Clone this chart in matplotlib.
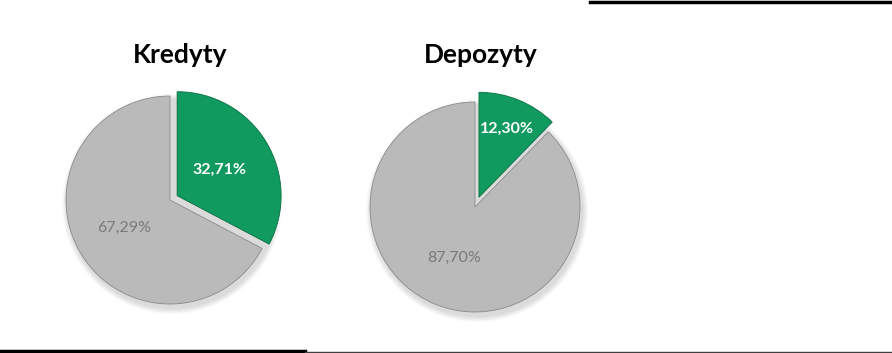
import numpy as np
import matplotlib.pyplot as plt
from matplotlib.patches import Circle

# data
titles = ["Kredyty", "Depozyty"]
shares = [[32.71, 67.29], [12.30, 87.70]]
labels = [["32,71%", "67,29%"], ["12,30%", "87,70%"]]

green = "#109a5f"
grey = "#bababa"

W, H = 892, 353
fig = plt.figure(figsize=(W / 100, H / 100), dpi=100)
plt.rcParams["font.family"] = ["Lato", "DejaVu Sans"]

# pie centres / radius in pixels (x from left, y from top)
centres = [(170, 200), (475, 207)]
radius = [104, 105]
explode_list = [[0.08, 0], [0.10, 0]]
pct_dist = [[0.48, 0.52], [0.70, 0.52]]
title_x = [180, 481]
half = 140

for i, name in enumerate(titles):
    cx, cy = centres[i]
    ax = fig.add_axes([(cx - half) / W, (H - cy - half) / H, 2 * half / W, 2 * half / H])

    # soft shadow
    for k in range(6):
        ax.add_patch(Circle((2, -4), radius[i] + 6 - k, color="black", alpha=0.025, lw=0, zorder=0))

    wedges, _ = ax.pie(shares[i], radius=radius[i], startangle=90, counterclock=False,
                       colors=[green, grey], explode=[e * radius[i] for e in explode_list[i]],
                       wedgeprops=dict(edgecolor="#8a8a8a", linewidth=0.6))
    wedges[0].set_edgecolor("#0b6e42")
    ax.set_xlim(-half, half)
    ax.set_ylim(-half, half)
    ax.set_aspect("equal")
    ax.axis("off")

    # labels at wedge middles
    for j, w in enumerate(wedges):
        ang = np.deg2rad((w.theta1 + w.theta2) / 2)
        ox, oy = w.center
        r = pct_dist[i][j] * radius[i]
        if j == 0:
            ax.text(ox + r * np.cos(ang), oy + r * np.sin(ang), labels[i][j], color="white",
                    fontsize=11.5, fontweight="bold", ha="center", va="center")
        else:
            ax.text(ox + r * np.cos(ang), oy + r * np.sin(ang), labels[i][j], color="#7a7a7a",
                    fontsize=11.5, ha="center", va="center")

    fig.text(title_x[i] / W, 1 - 55 / H, name, fontsize=19, fontweight="bold",
             ha="center", va="center")

# frame lines
fig.add_artist(plt.Line2D([590 / W, 1], [1 - 2 / H, 1 - 2 / H], color="black", lw=2.5))
fig.add_artist(plt.Line2D([0, 305 / W], [1 - 351 / H, 1 - 351 / H], color="black", lw=2.5))
fig.add_artist(plt.Line2D([305 / W, 1], [1 - 352 / H, 1 - 352 / H], color="#404040", lw=1))

fig.savefig("out.png", dpi=100)
